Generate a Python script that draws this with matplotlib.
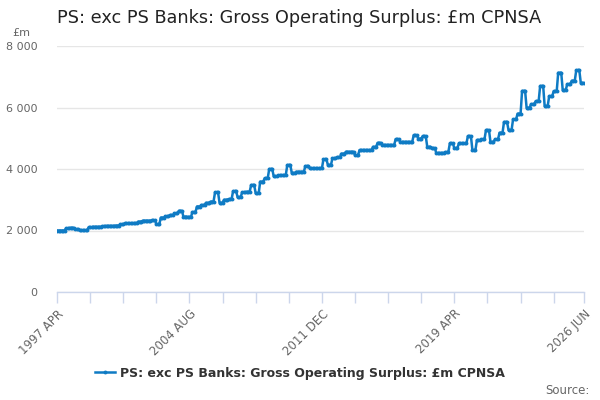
import matplotlib
matplotlib.use("Agg")
import matplotlib.pyplot as plt
import numpy as np
import pandas as pd

title = "PS: exc PS Banks: Gross Operating Surplus: £m CPNSA"
series_name = "PS: exc PS Banks: Gross Operating Surplus: £m CPNSA"

# quarterly values (1997 Q2 .. 2026 Q2), shown monthly, flat within each quarter
quarterly = [
    2000, 2000, 2070, 2090, 2040, 2010, 2010, 2100, 2120, 2120,
    2140, 2150, 2150, 2160, 2200, 2230, 2230, 2240, 2290, 2320,
    2320, 2330, 2210, 2420, 2460, 2500, 2560, 2640, 2450, 2440,
    2600, 2780, 2830, 2900, 2940, 3240, 2900, 3000, 3020, 3280,
    3080, 3240, 3260, 3480, 3210, 3590, 3700, 4000, 3760, 3790,
    3800, 4130, 3870, 3910, 3910, 4095, 4020, 4020, 4020, 4310,
    4130, 4345, 4380, 4500, 4560, 4560, 4450, 4615, 4615, 4615,
    4720, 4850, 4780, 4780, 4780, 4970, 4880, 4880, 4880, 5100,
    4990, 5070, 4720, 4680, 4520, 4520, 4550, 4830, 4680, 4830,
    4830, 5070, 4615, 4940, 4960, 5265, 4880, 4960, 5180, 5530,
    5265, 5610, 5800, 6540, 5990, 6110, 6200, 6700, 6045, 6370,
    6530, 7130, 6565, 6760, 6870, 7215, 6800,
]

months = pd.date_range("1997-04-01", periods=len(quarterly) * 3, freq="MS")
month_labels = [d.strftime("%Y %b").upper() for d in months]
values = np.repeat(quarterly, 3)

y_ticks = [0, 2000, 4000, 6000, 8000]

blue = "#0f7bc4"
grey = "#666666"

fig = plt.figure(figsize=(6, 4), dpi=100)
ax = fig.add_axes([0.095, 0.27, 0.878, 0.615])

x = np.arange(len(values))
ax.plot(x, values, color=blue, lw=1.8, marker="o", ms=2.8, mew=0,
        label=series_name, solid_joinstyle="round")

ax.set_xlim(0, len(values) - 1)
ax.set_ylim(0, 8000)

# ticks every 22 months, plus the last month
tick_pos = list(range(0, len(values) - 1, 22)) + [len(values) - 1]
tick_lab = [month_labels[p] if (p % 88 == 0 or p == len(values) - 1) else ""
            for p in tick_pos]
ax.set_xticks(tick_pos)
ax.set_xticklabels(tick_lab, rotation=45, ha="right", rotation_mode="anchor",
                   color=grey, fontsize=8.5)
ax.tick_params(axis="x", length=8, width=1, color="#ccd6eb", pad=3)

ax.set_yticks(y_ticks)
ax.set_yticklabels([f"{v:,}".replace(",", " ") for v in y_ticks],
                   color=grey, fontsize=8)
ax.tick_params(axis="y", length=0, pad=14)
ax.yaxis.grid(True, color="#e6e6e6", lw=1)
ax.set_axisbelow(True)

for s in ["top", "right", "left"]:
    ax.spines[s].set_visible(False)
ax.spines["bottom"].set_color("#ccd6eb")
ax.spines["bottom"].set_linewidth(1)

fig.text(0.095, 0.955, title, fontsize=12.7, color="#222222", va="center")
fig.text(0.02, 0.918, "£m", fontsize=8, color=grey, va="center")

leg = fig.legend(loc="center", bbox_to_anchor=(0.5, 0.067), frameon=False,
                 fontsize=9, handlelength=1.6, handletextpad=0.4)
for t in leg.get_texts():
    t.set_fontweight("bold")
    t.set_color("#333333")

fig.text(0.982, 0.025, "Source:", fontsize=8.5, color=grey, ha="right", va="center")

fig.savefig("out.png", dpi=100)
